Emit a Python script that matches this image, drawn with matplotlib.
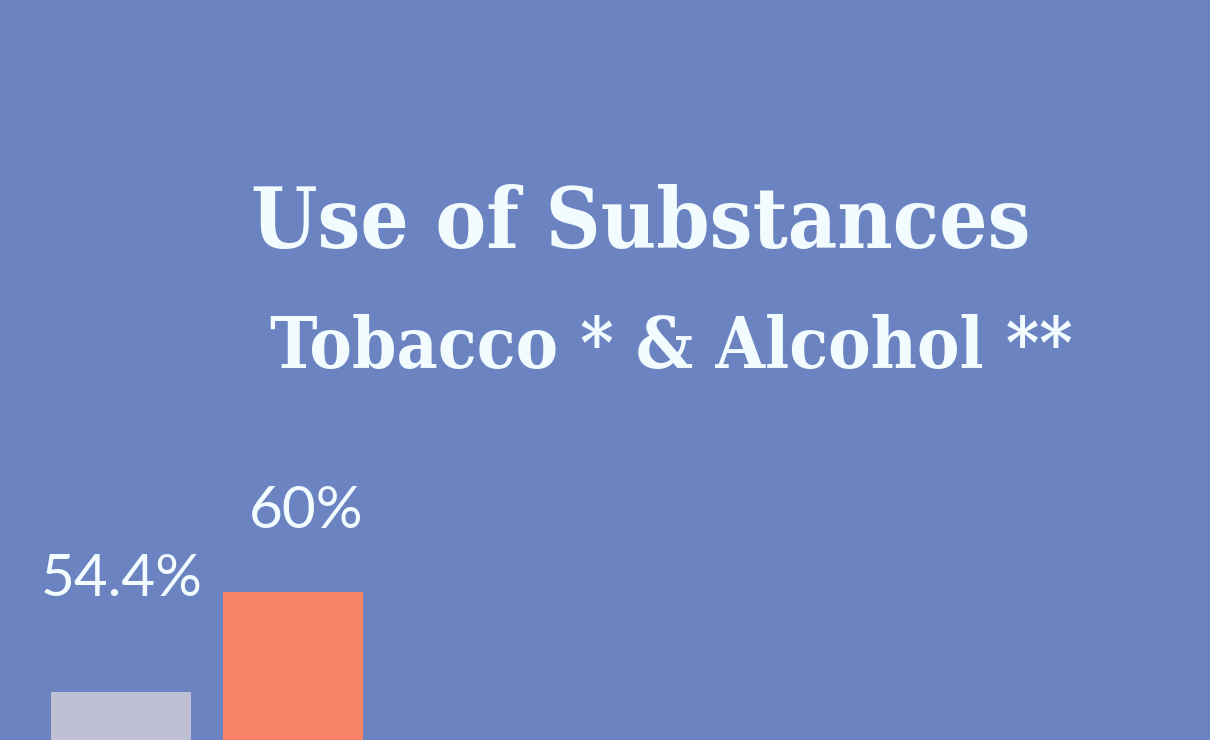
import matplotlib
matplotlib.use("Agg")
import matplotlib.pyplot as plt

# data
categories = ["Tobacco", "Alcohol"]
values = [54.4, 60.0]
labels = ["54.4%", "60%"]

title = "Use of Substances"
subtitle = "Tobacco * & Alcohol **"

# style
bg = "#6b84c1"
bar_colors = ["#bfc0d4", "#f98366"]
text_color = "#f2fbfd"
label_dx = [0.4, 9.4]      # points
label_dy = [68.9, 45.9]    # points above bar top

fig = plt.figure(figsize=(12.1, 7.4), dpi=100)
fig.patch.set_facecolor(bg)
ax = fig.add_axes([0, 0, 1, 1])
ax.set_facecolor(bg)

x = range(len(values))
ax.bar(x, values, width=0.8125, color=bar_colors)
for i, (v, lab) in enumerate(zip(values, labels)):
    ax.annotate(lab, (i, v), xytext=(label_dx[i], label_dy[i]),
                textcoords="offset points", ha="center", va="baseline",
                fontsize=42, family="Lato", color=text_color)

# only the top of the bars is in view
ax.set_xlim(-0.702, 6.32)
ax.set_ylim(51.69, 93.13)
ax.axis("off")

fig.text(641 / 1210, 1 - 248 / 740, title, ha="center", va="baseline",
         fontsize=61, family="DejaVu Serif", fontweight="bold",
         fontstretch="condensed", color=text_color)
fig.text(671 / 1210, 1 - 368 / 740, subtitle, ha="center", va="baseline",
         fontsize=51, family="DejaVu Serif", fontweight="bold",
         fontstretch="condensed", color=text_color)

fig.savefig("out.png", dpi=100, facecolor=bg)
